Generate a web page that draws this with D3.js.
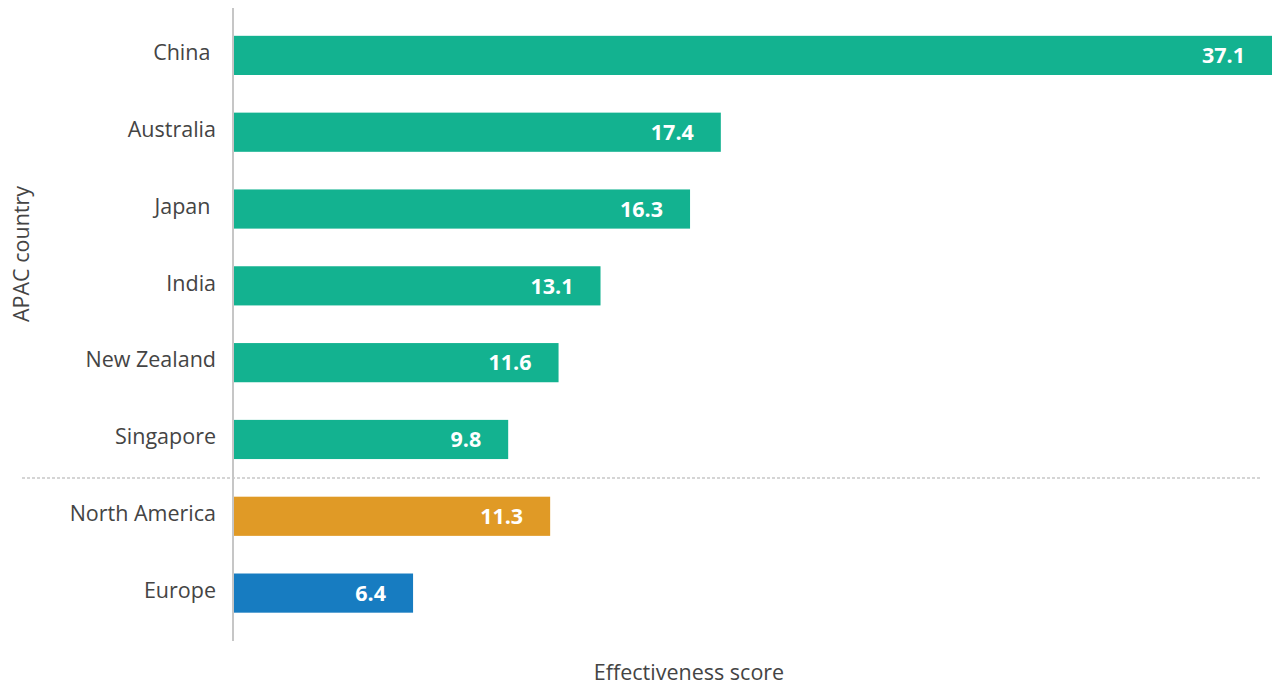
<!DOCTYPE html>
<html>
<head>
<meta charset="utf-8">
<script src="https://cdn.jsdelivr.net/npm/d3@7/dist/d3.min.js"></script>
<style>
  html, body { margin: 0; padding: 0; background: #fff; }
  svg { display: block; font-family: "Open Sans", "Noto Sans", sans-serif; }
</style>
</head>
<body>
<svg id="chart" width="1272" height="686"></svg>
<script>
// Effectiveness score by region
const categories = ["China ", "Australia", "Japan ", "India", "New Zealand", "Singapore", "North America", "Europe"];
const scores = [37.1, 17.4, 16.3, 13.1, 11.6, 9.8, 11.3, 6.4];
const groups = ["APAC", "APAC", "APAC", "APAC", "APAC", "APAC", "North America", "Europe"];

const groupColor = d3.scaleOrdinal()
  .domain(["APAC", "North America", "Europe"])
  .range(["#13b290", "#e09a26", "#177cc1"]);

const svg = d3.select("#chart");
const left = 234, right = 1272;
const fs = 21.5;

const x = d3.scaleLinear().domain([0, 37.1]).range([left, right]);
const y = d3.scaleBand().domain(categories).range([17, 631.5])
  .paddingInner(0.49).paddingOuter(0.245);

const rows = categories.map((c, i) => ({ cat: c, v: scores[i], g: groups[i] }));

// bars
svg.append("g").selectAll("rect").data(rows).join("rect")
  .attr("x", x(0))
  .attr("y", d => y(d.cat))
  .attr("width", d => x(d.v) - x(0))
  .attr("height", y.bandwidth())
  .attr("fill", d => groupColor(d.g));

// value labels inside bar ends
svg.append("g").selectAll("text").data(rows).join("text")
  .attr("x", d => x(d.v) - 27)
  .attr("y", d => y(d.cat) + y.bandwidth() / 2)
  .attr("dy", "0.36em")
  .attr("text-anchor", "end")
  .attr("fill", "#fff")
  .attr("font-weight", 700)
  .attr("font-size", fs)
  .text(d => d.v.toFixed(1));

// category labels
svg.append("g").selectAll("text").data(rows).join("text")
  .attr("x", 216)
  .attr("y", d => y(d.cat) + y.bandwidth() / 2 - 3)
  .attr("dy", "0.36em")
  .attr("text-anchor", "end")
  .attr("fill", "#444")
  .attr("font-size", fs)
  .style("white-space", "pre")
  .text(d => d.cat);

// separator between APAC and other regions
const sepY = (y("Singapore") + y.bandwidth() + y("North America")) / 2;
svg.append("line")
  .attr("x1", 22).attr("x2", 1260)
  .attr("y1", sepY).attr("y2", sepY)
  .attr("stroke", "#c8c8c8")
  .attr("stroke-width", 1.5)
  .attr("stroke-dasharray", "3,2");

// vertical baseline
svg.append("line")
  .attr("x1", 233).attr("x2", 233)
  .attr("y1", 8).attr("y2", 641)
  .attr("stroke", "#c6c6c6")
  .attr("stroke-width", 2);

// axis titles
svg.append("text")
  .attr("transform", "translate(28.5,254) rotate(-90)")
  .attr("text-anchor", "middle")
  .attr("fill", "#444")
  .attr("font-size", fs)
  .text("APAC country");

svg.append("text")
  .attr("x", 689).attr("y", 680)
  .attr("text-anchor", "middle")
  .attr("fill", "#444")
  .attr("font-size", fs)
  .text("Effectiveness score");
</script>
</body>
</html>
